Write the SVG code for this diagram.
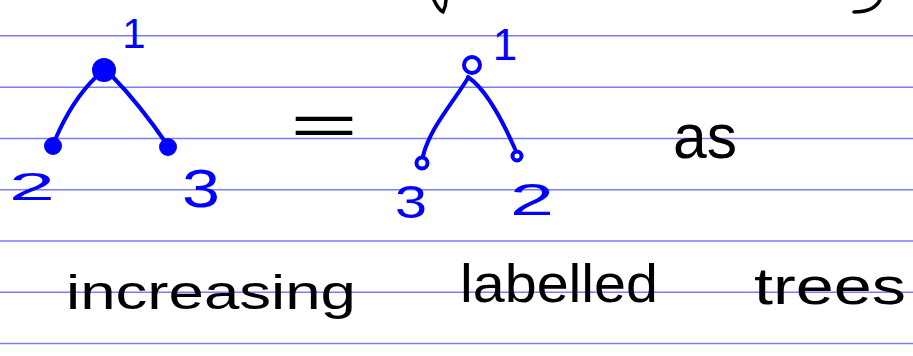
<svg xmlns="http://www.w3.org/2000/svg" width="913" height="356" viewBox="0 0 913 356">
<style>
.rule{stroke:#7b7bff;stroke-width:1.5}
.ink{fill:none;stroke:#0000ff;stroke-width:4;stroke-linecap:round;stroke-linejoin:round}
.pen{fill:none;stroke:#000;stroke-width:3.5;stroke-linecap:round;stroke-linejoin:round}
.blue{fill:#0000ff;font-family:'Liberation Sans',Arial,sans-serif}
.black{fill:#000;font-family:'Liberation Sans',Arial,sans-serif}
.full{fill:#0000ff;stroke:#0000ff;stroke-width:3}
.open{fill:#fff;stroke:#0000ff;stroke-width:4}
</style>
<rect width="913" height="356" fill="#fff"/>
<g id="rules">
<line class="rule" x1="0" y1="35.7" x2="913" y2="35.7"/>
<line class="rule" x1="0" y1="87.2" x2="913" y2="87.2"/>
<line class="rule" x1="0" y1="138.4" x2="913" y2="138.4"/>
<line class="rule" x1="0" y1="189.7" x2="913" y2="189.7"/>
<line class="rule" x1="0" y1="241" x2="913" y2="241"/>
<line class="rule" x1="0" y1="292.2" x2="913" y2="292.2"/>
<line class="rule" x1="0" y1="343.5" x2="913" y2="343.5"/>
</g>
<g id="top-fragments">
<path class="pen" d="M434,0 Q438,9 443,12 Q446,6 446,0"/>
<path class="pen" d="M880,0 Q874,12 854,12"/>
</g>
<g id="connectors">
<path class="ink" d="M97,76 Q72,100 55,140"/>
<path class="ink" d="M112,76 Q140,105 166,143"/>
<path class="ink" d="M468,78 C452,104 430,128 423,156"/>
<path class="ink" d="M468,77 Q490,92 515,149"/>
</g>
<g id="left-root">
<circle class="full" cx="104" cy="70" r="10.5"/>
<text class="blue" x="134" y="48" font-size="42" text-anchor="middle">1</text>
</g>
<g id="left-child-2">
<circle class="full" cx="53" cy="146" r="7.5"/>
<text class="blue" x="9" y="200" font-size="38" textLength="46" lengthAdjust="spacingAndGlyphs">2</text>
</g>
<g id="left-child-3">
<circle class="full" cx="168" cy="147" r="7.5"/>
<text class="blue" x="182" y="207" font-size="54" textLength="38" lengthAdjust="spacingAndGlyphs">3</text>
</g>
<g id="equals">
<text class="black" x="290" y="145" font-size="58" textLength="68" lengthAdjust="spacingAndGlyphs">=</text>
</g>
<g id="right-root">
<circle class="open" cx="472" cy="65" r="8"/>
<text class="blue" x="505" y="60" font-size="44" text-anchor="middle">1</text>
</g>
<g id="right-child-3">
<circle class="open" cx="422" cy="163" r="5.5"/>
<text class="blue" x="395" y="218" font-size="46" textLength="32" lengthAdjust="spacingAndGlyphs">3</text>
</g>
<g id="right-child-2">
<circle class="open" cx="517" cy="156" r="4.5"/>
<text class="blue" x="510" y="215" font-size="45" textLength="44" lengthAdjust="spacingAndGlyphs">2</text>
</g>
<g id="as">
<text class="black" x="673" y="158" font-size="63" textLength="64" lengthAdjust="spacingAndGlyphs">as</text>
</g>
<g id="caption">
<text class="black" x="66" y="309" font-size="48" textLength="290" lengthAdjust="spacingAndGlyphs">increasing</text>
<text class="black" x="460" y="302" font-size="54" textLength="198" lengthAdjust="spacingAndGlyphs">labelled</text>
<text class="black" x="754" y="304" font-size="52" textLength="152" lengthAdjust="spacingAndGlyphs">trees</text>
</g>
</svg>
